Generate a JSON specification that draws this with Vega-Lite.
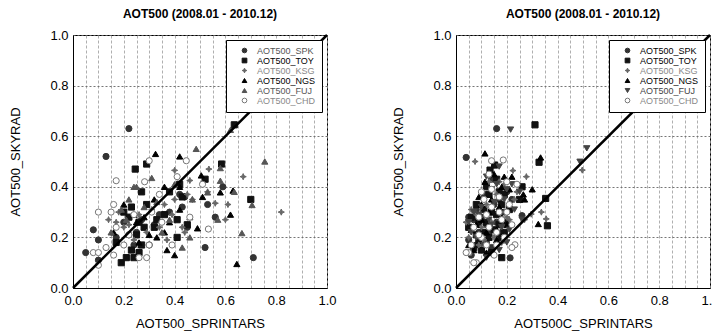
{
  "$schema": "https://vega.github.io/schema/vega-lite/v6.json",
  "padding": {"left": 9, "top": 7, "right": 0, "bottom": 0},
  "background": "white",
  "datasets": {
    "diag": [{"x": 0, "y": 0}, {"x": 1, "y": 1}],
    "left": [
      {"s": "AOT500_SPK", "x": 0.22, "y": 0.63}, {"s": "AOT500_SPK", "x": 0.13, "y": 0.52}, {"s": "AOT500_SPK", "x": 0.05, "y": 0.14}, {"s": "AOT500_SPK", "x": 0.10, "y": 0.19}, {"s": "AOT500_SPK", "x": 0.08, "y": 0.23}, {"s": "AOT500_SPK", "x": 0.10, "y": 0.11}, {"s": "AOT500_SPK", "x": 0.52, "y": 0.16}, {"s": "AOT500_SPK", "x": 0.71, "y": 0.12}, {"s": "AOT500_SPK", "x": 0.59, "y": 0.40}, {"s": "AOT500_SPK", "x": 0.53, "y": 0.33}, {"s": "AOT500_SPK", "x": 0.56, "y": 0.28}, {"s": "AOT500_SPK", "x": 0.20, "y": 0.26}, {"s": "AOT500_SPK", "x": 0.22, "y": 0.21}, {"s": "AOT500_SPK", "x": 0.25, "y": 0.22}, {"s": "AOT500_SPK", "x": 0.38, "y": 0.30}, {"s": "AOT500_SPK", "x": 0.42, "y": 0.37}, {"s": "AOT500_SPK", "x": 0.44, "y": 0.36}, {"s": "AOT500_SPK", "x": 0.45, "y": 0.24}, {"s": "AOT500_SPK", "x": 0.30, "y": 0.17}, {"s": "AOT500_SPK", "x": 0.32, "y": 0.25}, {"s": "AOT500_SPK", "x": 0.43, "y": 0.32}, {"s": "AOT500_SPK", "x": 0.17, "y": 0.20}, {"s": "AOT500_SPK", "x": 0.27, "y": 0.27}, {"s": "AOT500_SPK", "x": 0.34, "y": 0.29}, {"s": "AOT500_SPK", "x": 0.24, "y": 0.17},
      {"s": "AOT500_TOY", "x": 0.635, "y": 0.645}, {"s": "AOT500_TOY", "x": 0.29, "y": 0.49}, {"s": "AOT500_TOY", "x": 0.245, "y": 0.47}, {"s": "AOT500_TOY", "x": 0.27, "y": 0.38}, {"s": "AOT500_TOY", "x": 0.585, "y": 0.49}, {"s": "AOT500_TOY", "x": 0.70, "y": 0.35}, {"s": "AOT500_TOY", "x": 0.19, "y": 0.10}, {"s": "AOT500_TOY", "x": 0.21, "y": 0.12}, {"s": "AOT500_TOY", "x": 0.24, "y": 0.12}, {"s": "AOT500_TOY", "x": 0.23, "y": 0.15}, {"s": "AOT500_TOY", "x": 0.26, "y": 0.14}, {"s": "AOT500_TOY", "x": 0.27, "y": 0.17}, {"s": "AOT500_TOY", "x": 0.20, "y": 0.30}, {"s": "AOT500_TOY", "x": 0.23, "y": 0.32}, {"s": "AOT500_TOY", "x": 0.26, "y": 0.26}, {"s": "AOT500_TOY", "x": 0.28, "y": 0.24}, {"s": "AOT500_TOY", "x": 0.32, "y": 0.24}, {"s": "AOT500_TOY", "x": 0.41, "y": 0.27}, {"s": "AOT500_TOY", "x": 0.41, "y": 0.20}, {"s": "AOT500_TOY", "x": 0.45, "y": 0.25}, {"s": "AOT500_TOY", "x": 0.42, "y": 0.41}, {"s": "AOT500_TOY", "x": 0.38, "y": 0.38}, {"s": "AOT500_TOY", "x": 0.43, "y": 0.36}, {"s": "AOT500_TOY", "x": 0.52, "y": 0.43}, {"s": "AOT500_TOY", "x": 0.17, "y": 0.18}, {"s": "AOT500_TOY", "x": 0.22, "y": 0.28}, {"s": "AOT500_TOY", "x": 0.29, "y": 0.33}, {"s": "AOT500_TOY", "x": 0.36, "y": 0.29}, {"s": "AOT500_TOY", "x": 0.25, "y": 0.21}, {"s": "AOT500_TOY", "x": 0.33, "y": 0.27},
      {"s": "AOT500_KSG", "x": 0.82, "y": 0.30}, {"s": "AOT500_KSG", "x": 0.67, "y": 0.44}, {"s": "AOT500_KSG", "x": 0.61, "y": 0.33}, {"s": "AOT500_KSG", "x": 0.56, "y": 0.335}, {"s": "AOT500_KSG", "x": 0.535, "y": 0.47}, {"s": "AOT500_KSG", "x": 0.46, "y": 0.425}, {"s": "AOT500_KSG", "x": 0.40, "y": 0.465}, {"s": "AOT500_KSG", "x": 0.41, "y": 0.44}, {"s": "AOT500_KSG", "x": 0.37, "y": 0.19}, {"s": "AOT500_KSG", "x": 0.34, "y": 0.24}, {"s": "AOT500_KSG", "x": 0.43, "y": 0.24}, {"s": "AOT500_KSG", "x": 0.47, "y": 0.35}, {"s": "AOT500_KSG", "x": 0.45, "y": 0.37}, {"s": "AOT500_KSG", "x": 0.14, "y": 0.27}, {"s": "AOT500_KSG", "x": 0.17, "y": 0.26}, {"s": "AOT500_KSG", "x": 0.20, "y": 0.24}, {"s": "AOT500_KSG", "x": 0.24, "y": 0.19}, {"s": "AOT500_KSG", "x": 0.26, "y": 0.29}, {"s": "AOT500_KSG", "x": 0.31, "y": 0.31}, {"s": "AOT500_KSG", "x": 0.35, "y": 0.26}, {"s": "AOT500_KSG", "x": 0.39, "y": 0.29}, {"s": "AOT500_KSG", "x": 0.44, "y": 0.22}, {"s": "AOT500_KSG", "x": 0.29, "y": 0.22}, {"s": "AOT500_KSG", "x": 0.18, "y": 0.30}, {"s": "AOT500_KSG", "x": 0.53, "y": 0.38}, {"s": "AOT500_KSG", "x": 0.60, "y": 0.27}, {"s": "AOT500_KSG", "x": 0.36, "y": 0.33}, {"s": "AOT500_KSG", "x": 0.22, "y": 0.25}, {"s": "AOT500_KSG", "x": 0.40, "y": 0.35},
      {"s": "AOT500_NGS", "x": 0.325, "y": 0.53}, {"s": "AOT500_NGS", "x": 0.42, "y": 0.52}, {"s": "AOT500_NGS", "x": 0.505, "y": 0.445}, {"s": "AOT500_NGS", "x": 0.36, "y": 0.40}, {"s": "AOT500_NGS", "x": 0.42, "y": 0.40}, {"s": "AOT500_NGS", "x": 0.58, "y": 0.378}, {"s": "AOT500_NGS", "x": 0.63, "y": 0.385}, {"s": "AOT500_NGS", "x": 0.62, "y": 0.29}, {"s": "AOT500_NGS", "x": 0.49, "y": 0.236}, {"s": "AOT500_NGS", "x": 0.51, "y": 0.36}, {"s": "AOT500_NGS", "x": 0.40, "y": 0.13}, {"s": "AOT500_NGS", "x": 0.37, "y": 0.15}, {"s": "AOT500_NGS", "x": 0.20, "y": 0.33}, {"s": "AOT500_NGS", "x": 0.24, "y": 0.29}, {"s": "AOT500_NGS", "x": 0.30, "y": 0.21}, {"s": "AOT500_NGS", "x": 0.33, "y": 0.20}, {"s": "AOT500_NGS", "x": 0.36, "y": 0.22}, {"s": "AOT500_NGS", "x": 0.42, "y": 0.31}, {"s": "AOT500_NGS", "x": 0.26, "y": 0.18}, {"s": "AOT500_NGS", "x": 0.32, "y": 0.35}, {"s": "AOT500_NGS", "x": 0.38, "y": 0.26}, {"s": "AOT500_NGS", "x": 0.16, "y": 0.22}, {"s": "AOT500_NGS", "x": 0.25, "y": 0.26}, {"s": "AOT500_NGS", "x": 0.645, "y": 0.095}, {"s": "AOT500_NGS", "x": 0.28, "y": 0.28},
      {"s": "AOT500_FUJ", "x": 0.485, "y": 0.55}, {"s": "AOT500_FUJ", "x": 0.755, "y": 0.50}, {"s": "AOT500_FUJ", "x": 0.62, "y": 0.625}, {"s": "AOT500_FUJ", "x": 0.31, "y": 0.435}, {"s": "AOT500_FUJ", "x": 0.24, "y": 0.40}, {"s": "AOT500_FUJ", "x": 0.25, "y": 0.40}, {"s": "AOT500_FUJ", "x": 0.19, "y": 0.31}, {"s": "AOT500_FUJ", "x": 0.22, "y": 0.35}, {"s": "AOT500_FUJ", "x": 0.28, "y": 0.32}, {"s": "AOT500_FUJ", "x": 0.58, "y": 0.424}, {"s": "AOT500_FUJ", "x": 0.58, "y": 0.474}, {"s": "AOT500_FUJ", "x": 0.635, "y": 0.38}, {"s": "AOT500_FUJ", "x": 0.705, "y": 0.328}, {"s": "AOT500_FUJ", "x": 0.665, "y": 0.217}, {"s": "AOT500_FUJ", "x": 0.57, "y": 0.27}, {"s": "AOT500_FUJ", "x": 0.53, "y": 0.378}, {"s": "AOT500_FUJ", "x": 0.46, "y": 0.20}, {"s": "AOT500_FUJ", "x": 0.43, "y": 0.16}, {"s": "AOT500_FUJ", "x": 0.46, "y": 0.28}, {"s": "AOT500_FUJ", "x": 0.38, "y": 0.27}, {"s": "AOT500_FUJ", "x": 0.40, "y": 0.41}, {"s": "AOT500_FUJ", "x": 0.33, "y": 0.34}, {"s": "AOT500_FUJ", "x": 0.15, "y": 0.22}, {"s": "AOT500_FUJ", "x": 0.47, "y": 0.35}, {"s": "AOT500_FUJ", "x": 0.35, "y": 0.22}, {"s": "AOT500_FUJ", "x": 0.21, "y": 0.27},
      {"s": "AOT500_CHD", "x": 0.446, "y": 0.503}, {"s": "AOT500_CHD", "x": 0.30, "y": 0.503}, {"s": "AOT500_CHD", "x": 0.282, "y": 0.42}, {"s": "AOT500_CHD", "x": 0.17, "y": 0.424}, {"s": "AOT500_CHD", "x": 0.51, "y": 0.41}, {"s": "AOT500_CHD", "x": 0.41, "y": 0.44}, {"s": "AOT500_CHD", "x": 0.34, "y": 0.37}, {"s": "AOT500_CHD", "x": 0.16, "y": 0.33}, {"s": "AOT500_CHD", "x": 0.10, "y": 0.30}, {"s": "AOT500_CHD", "x": 0.15, "y": 0.30}, {"s": "AOT500_CHD", "x": 0.533, "y": 0.233}, {"s": "AOT500_CHD", "x": 0.46, "y": 0.28}, {"s": "AOT500_CHD", "x": 0.39, "y": 0.17}, {"s": "AOT500_CHD", "x": 0.29, "y": 0.12}, {"s": "AOT500_CHD", "x": 0.26, "y": 0.12}, {"s": "AOT500_CHD", "x": 0.10, "y": 0.09}, {"s": "AOT500_CHD", "x": 0.08, "y": 0.14}, {"s": "AOT500_CHD", "x": 0.10, "y": 0.14}, {"s": "AOT500_CHD", "x": 0.13, "y": 0.16}, {"s": "AOT500_CHD", "x": 0.16, "y": 0.13}, {"s": "AOT500_CHD", "x": 0.17, "y": 0.24}, {"s": "AOT500_CHD", "x": 0.22, "y": 0.21}, {"s": "AOT500_CHD", "x": 0.24, "y": 0.29}, {"s": "AOT500_CHD", "x": 0.30, "y": 0.17}, {"s": "AOT500_CHD", "x": 0.35, "y": 0.26}, {"s": "AOT500_CHD", "x": 0.20, "y": 0.17}, {"s": "AOT500_CHD", "x": 0.31, "y": 0.30}
    ],
    "right": [
      {"s": "AOT500_SPK", "x": 0.16, "y": 0.63}, {"s": "AOT500_SPK", "x": 0.04, "y": 0.516}, {"s": "AOT500_SPK", "x": 0.213, "y": 0.119}, {"s": "AOT500_SPK", "x": 0.05, "y": 0.19}, {"s": "AOT500_SPK", "x": 0.06, "y": 0.13}, {"s": "AOT500_SPK", "x": 0.08, "y": 0.17}, {"s": "AOT500_SPK", "x": 0.10, "y": 0.28}, {"s": "AOT500_SPK", "x": 0.13, "y": 0.22}, {"s": "AOT500_SPK", "x": 0.15, "y": 0.33}, {"s": "AOT500_SPK", "x": 0.17, "y": 0.35}, {"s": "AOT500_SPK", "x": 0.19, "y": 0.30}, {"s": "AOT500_SPK", "x": 0.12, "y": 0.25}, {"s": "AOT500_SPK", "x": 0.09, "y": 0.22}, {"s": "AOT500_SPK", "x": 0.14, "y": 0.16}, {"s": "AOT500_SPK", "x": 0.18, "y": 0.22}, {"s": "AOT500_SPK", "x": 0.26, "y": 0.286}, {"s": "AOT500_SPK", "x": 0.07, "y": 0.27}, {"s": "AOT500_SPK", "x": 0.11, "y": 0.37}, {"s": "AOT500_SPK", "x": 0.20, "y": 0.38}, {"s": "AOT500_SPK", "x": 0.05, "y": 0.28}, {"s": "AOT500_SPK", "x": 0.08, "y": 0.31}, {"s": "AOT500_SPK", "x": 0.12, "y": 0.18}, {"s": "AOT500_SPK", "x": 0.16, "y": 0.26}, {"s": "AOT500_SPK", "x": 0.19, "y": 0.19}, {"s": "AOT500_SPK", "x": 0.22, "y": 0.35}, {"s": "AOT500_SPK", "x": 0.14, "y": 0.43},
      {"s": "AOT500_TOY", "x": 0.311, "y": 0.645}, {"s": "AOT500_TOY", "x": 0.327, "y": 0.497}, {"s": "AOT500_TOY", "x": 0.36, "y": 0.246}, {"s": "AOT500_TOY", "x": 0.353, "y": 0.354}, {"s": "AOT500_TOY", "x": 0.26, "y": 0.40}, {"s": "AOT500_TOY", "x": 0.134, "y": 0.466}, {"s": "AOT500_TOY", "x": 0.152, "y": 0.486}, {"s": "AOT500_TOY", "x": 0.13, "y": 0.37}, {"s": "AOT500_TOY", "x": 0.17, "y": 0.38}, {"s": "AOT500_TOY", "x": 0.12, "y": 0.26}, {"s": "AOT500_TOY", "x": 0.16, "y": 0.29}, {"s": "AOT500_TOY", "x": 0.19, "y": 0.22}, {"s": "AOT500_TOY", "x": 0.09, "y": 0.18}, {"s": "AOT500_TOY", "x": 0.10, "y": 0.15}, {"s": "AOT500_TOY", "x": 0.14, "y": 0.14}, {"s": "AOT500_TOY", "x": 0.17, "y": 0.20}, {"s": "AOT500_TOY", "x": 0.06, "y": 0.28}, {"s": "AOT500_TOY", "x": 0.15, "y": 0.23}, {"s": "AOT500_TOY", "x": 0.11, "y": 0.31}, {"s": "AOT500_TOY", "x": 0.18, "y": 0.33}, {"s": "AOT500_TOY", "x": 0.25, "y": 0.35}, {"s": "AOT500_TOY", "x": 0.08, "y": 0.33}, {"s": "AOT500_TOY", "x": 0.20, "y": 0.26}, {"s": "AOT500_TOY", "x": 0.13, "y": 0.20}, {"s": "AOT500_TOY", "x": 0.07, "y": 0.16}, {"s": "AOT500_TOY", "x": 0.05, "y": 0.24}, {"s": "AOT500_TOY", "x": 0.09, "y": 0.26}, {"s": "AOT500_TOY", "x": 0.11, "y": 0.22}, {"s": "AOT500_TOY", "x": 0.14, "y": 0.30}, {"s": "AOT500_TOY", "x": 0.17, "y": 0.25}, {"s": "AOT500_TOY", "x": 0.19, "y": 0.37}, {"s": "AOT500_TOY", "x": 0.21, "y": 0.31}, {"s": "AOT500_TOY", "x": 0.16, "y": 0.43}, {"s": "AOT500_TOY", "x": 0.12, "y": 0.40}, {"s": "AOT500_TOY", "x": 0.18, "y": 0.12}, {"s": "AOT500_TOY", "x": 0.08, "y": 0.21},
      {"s": "AOT500_KSG", "x": 0.075, "y": 0.50}, {"s": "AOT500_KSG", "x": 0.224, "y": 0.464}, {"s": "AOT500_KSG", "x": 0.277, "y": 0.44}, {"s": "AOT500_KSG", "x": 0.497, "y": 0.466}, {"s": "AOT500_KSG", "x": 0.336, "y": 0.30}, {"s": "AOT500_KSG", "x": 0.355, "y": 0.273}, {"s": "AOT500_KSG", "x": 0.23, "y": 0.35}, {"s": "AOT500_KSG", "x": 0.224, "y": 0.163}, {"s": "AOT500_KSG", "x": 0.13, "y": 0.42}, {"s": "AOT500_KSG", "x": 0.08, "y": 0.29}, {"s": "AOT500_KSG", "x": 0.10, "y": 0.24}, {"s": "AOT500_KSG", "x": 0.16, "y": 0.37}, {"s": "AOT500_KSG", "x": 0.20, "y": 0.28}, {"s": "AOT500_KSG", "x": 0.05, "y": 0.20}, {"s": "AOT500_KSG", "x": 0.18, "y": 0.18}, {"s": "AOT500_KSG", "x": 0.27, "y": 0.27}, {"s": "AOT500_KSG", "x": 0.12, "y": 0.33}, {"s": "AOT500_KSG", "x": 0.06, "y": 0.14}, {"s": "AOT500_KSG", "x": 0.14, "y": 0.26}, {"s": "AOT500_KSG", "x": 0.11, "y": 0.19}, {"s": "AOT500_KSG", "x": 0.19, "y": 0.41}, {"s": "AOT500_KSG", "x": 0.04, "y": 0.26}, {"s": "AOT500_KSG", "x": 0.09, "y": 0.17}, {"s": "AOT500_KSG", "x": 0.15, "y": 0.20}, {"s": "AOT500_KSG", "x": 0.17, "y": 0.42}, {"s": "AOT500_KSG", "x": 0.21, "y": 0.27}, {"s": "AOT500_KSG", "x": 0.24, "y": 0.38}, {"s": "AOT500_KSG", "x": 0.06, "y": 0.31}, {"s": "AOT500_KSG", "x": 0.296, "y": 0.292},
      {"s": "AOT500_NGS", "x": 0.114, "y": 0.532}, {"s": "AOT500_NGS", "x": 0.333, "y": 0.516}, {"s": "AOT500_NGS", "x": 0.30, "y": 0.39}, {"s": "AOT500_NGS", "x": 0.324, "y": 0.253}, {"s": "AOT500_NGS", "x": 0.265, "y": 0.37}, {"s": "AOT500_NGS", "x": 0.27, "y": 0.35}, {"s": "AOT500_NGS", "x": 0.19, "y": 0.44}, {"s": "AOT500_NGS", "x": 0.18, "y": 0.40}, {"s": "AOT500_NGS", "x": 0.114, "y": 0.42}, {"s": "AOT500_NGS", "x": 0.15, "y": 0.45}, {"s": "AOT500_NGS", "x": 0.09, "y": 0.36}, {"s": "AOT500_NGS", "x": 0.13, "y": 0.30}, {"s": "AOT500_NGS", "x": 0.17, "y": 0.32}, {"s": "AOT500_NGS", "x": 0.12, "y": 0.22}, {"s": "AOT500_NGS", "x": 0.07, "y": 0.15}, {"s": "AOT500_NGS", "x": 0.20, "y": 0.25}, {"s": "AOT500_NGS", "x": 0.16, "y": 0.19}, {"s": "AOT500_NGS", "x": 0.10, "y": 0.27}, {"s": "AOT500_NGS", "x": 0.21, "y": 0.39}, {"s": "AOT500_NGS", "x": 0.06, "y": 0.23}, {"s": "AOT500_NGS", "x": 0.05, "y": 0.17}, {"s": "AOT500_NGS", "x": 0.08, "y": 0.25}, {"s": "AOT500_NGS", "x": 0.14, "y": 0.35}, {"s": "AOT500_NGS", "x": 0.16, "y": 0.23}, {"s": "AOT500_NGS", "x": 0.18, "y": 0.28}, {"s": "AOT500_NGS", "x": 0.22, "y": 0.44}, {"s": "AOT500_NGS", "x": 0.12, "y": 0.14}, {"s": "AOT500_NGS", "x": 0.10, "y": 0.33},
      {"s": "AOT500_FUJ", "x": 0.215, "y": 0.626}, {"s": "AOT500_FUJ", "x": 0.515, "y": 0.552}, {"s": "AOT500_FUJ", "x": 0.488, "y": 0.499}, {"s": "AOT500_FUJ", "x": 0.17, "y": 0.48}, {"s": "AOT500_FUJ", "x": 0.14, "y": 0.39}, {"s": "AOT500_FUJ", "x": 0.25, "y": 0.38}, {"s": "AOT500_FUJ", "x": 0.26, "y": 0.27}, {"s": "AOT500_FUJ", "x": 0.20, "y": 0.18}, {"s": "AOT500_FUJ", "x": 0.12, "y": 0.44}, {"s": "AOT500_FUJ", "x": 0.16, "y": 0.41}, {"s": "AOT500_FUJ", "x": 0.10, "y": 0.32}, {"s": "AOT500_FUJ", "x": 0.14, "y": 0.25}, {"s": "AOT500_FUJ", "x": 0.08, "y": 0.20}, {"s": "AOT500_FUJ", "x": 0.19, "y": 0.35}, {"s": "AOT500_FUJ", "x": 0.07, "y": 0.30}, {"s": "AOT500_FUJ", "x": 0.21, "y": 0.23}, {"s": "AOT500_FUJ", "x": 0.12, "y": 0.12}, {"s": "AOT500_FUJ", "x": 0.22, "y": 0.41}, {"s": "AOT500_FUJ", "x": 0.17, "y": 0.15}, {"s": "AOT500_FUJ", "x": 0.05, "y": 0.26}, {"s": "AOT500_FUJ", "x": 0.06, "y": 0.22}, {"s": "AOT500_FUJ", "x": 0.09, "y": 0.29}, {"s": "AOT500_FUJ", "x": 0.13, "y": 0.27}, {"s": "AOT500_FUJ", "x": 0.15, "y": 0.34}, {"s": "AOT500_FUJ", "x": 0.18, "y": 0.24}, {"s": "AOT500_FUJ", "x": 0.20, "y": 0.39}, {"s": "AOT500_FUJ", "x": 0.11, "y": 0.17}, {"s": "AOT500_FUJ", "x": 0.23, "y": 0.31},
      {"s": "AOT500_CHD", "x": 0.186, "y": 0.506}, {"s": "AOT500_CHD", "x": 0.14, "y": 0.503}, {"s": "AOT500_CHD", "x": 0.232, "y": 0.171}, {"s": "AOT500_CHD", "x": 0.24, "y": 0.41}, {"s": "AOT500_CHD", "x": 0.22, "y": 0.16}, {"s": "AOT500_CHD", "x": 0.20, "y": 0.42}, {"s": "AOT500_CHD", "x": 0.14, "y": 0.39}, {"s": "AOT500_CHD", "x": 0.17, "y": 0.30}, {"s": "AOT500_CHD", "x": 0.13, "y": 0.24}, {"s": "AOT500_CHD", "x": 0.10, "y": 0.20}, {"s": "AOT500_CHD", "x": 0.08, "y": 0.10}, {"s": "AOT500_CHD", "x": 0.07, "y": 0.10}, {"s": "AOT500_CHD", "x": 0.05, "y": 0.14}, {"s": "AOT500_CHD", "x": 0.04, "y": 0.14}, {"s": "AOT500_CHD", "x": 0.15, "y": 0.13}, {"s": "AOT500_CHD", "x": 0.12, "y": 0.17}, {"s": "AOT500_CHD", "x": 0.18, "y": 0.27}, {"s": "AOT500_CHD", "x": 0.11, "y": 0.35}, {"s": "AOT500_CHD", "x": 0.16, "y": 0.22}, {"s": "AOT500_CHD", "x": 0.09, "y": 0.28}, {"s": "AOT500_CHD", "x": 0.06, "y": 0.17}, {"s": "AOT500_CHD", "x": 0.19, "y": 0.20}, {"s": "AOT500_CHD", "x": 0.14, "y": 0.32}, {"s": "AOT500_CHD", "x": 0.21, "y": 0.33}, {"s": "AOT500_CHD", "x": 0.07, "y": 0.24}, {"s": "AOT500_CHD", "x": 0.10, "y": 0.38}, {"s": "AOT500_CHD", "x": 0.13, "y": 0.45}, {"s": "AOT500_CHD", "x": 0.17, "y": 0.36}, {"s": "AOT500_CHD", "x": 0.20, "y": 0.30}, {"s": "AOT500_CHD", "x": 0.22, "y": 0.25}, {"s": "AOT500_CHD", "x": 0.16, "y": 0.17}, {"s": "AOT500_CHD", "x": 0.09, "y": 0.21}, {"s": "AOT500_CHD", "x": 0.12, "y": 0.29}
    ]
  },
  "hconcat": [
    {
      "width": 254, "height": 253,
      "title": {"text": "AOT500 (2008.01 - 2010.12)"},
      "encoding": {
        "x": {"field": "x", "type": "quantitative", "scale": {"domain": [0, 1], "nice": false, "zero": false},
          "axis": {"title": "AOT500_SPRINTARS", "values": [0, 0.05, 0.1, 0.15, 0.2, 0.25, 0.3, 0.35, 0.4, 0.45, 0.5, 0.55, 0.6, 0.65, 0.7, 0.75, 0.8, 0.85, 0.9, 0.95, 1], "labelExpr": "round(datum.value*100) % 20 == 0 ? format(datum.value, '.1f') : ''", "gridDash": [3, 2], "gridColor": "#9a9a9a", "gridWidth": 0.8}},
        "y": {"field": "y", "type": "quantitative", "scale": {"domain": [0, 1], "nice": false, "zero": false},
          "axis": {"title": "AOT500_SKYRAD", "values": [0, 0.2, 0.4, 0.6, 0.8, 1], "format": ".1f", "gridDash": [2, 2], "gridColor": "#666", "gridWidth": 0.9}}
      },
      "layer": [
        {
          "data": {"name": "left"},
          "mark": {"type": "point", "filled": true, "size": 38, "strokeWidth": 1, "opacity": 1},
          "encoding": {
            "shape": {"field": "s", "type": "nominal", "scale": {"domain": ["AOT500_SPK", "AOT500_TOY", "AOT500_KSG", "AOT500_NGS", "AOT500_FUJ", "AOT500_CHD"], "range": ["circle", "square", "M0,-1L0.3,-0.3L1,0L0.3,0.3L0,1L-0.3,0.3L-1,0L-0.3,-0.3Z", "triangle-up", "triangle-up", "circle"]}, "legend": {"title": null, "labelColor": {"expr": "datum.label == 'AOT500_TOY' || datum.label == 'AOT500_NGS' ? '#000000' : (datum.label == 'AOT500_SPK' || datum.label == 'AOT500_FUJ' ? '#555555' : '#888888')"}}},
            "fill": {"field": "s", "type": "nominal", "scale": {"domain": ["AOT500_SPK", "AOT500_TOY", "AOT500_KSG", "AOT500_NGS", "AOT500_FUJ", "AOT500_CHD"], "range": ["#333333", "#111111", "#666666", "#000000", "#555555", "#ffffff"]}, "legend": {"title": null, "labelColor": {"expr": "datum.label == 'AOT500_TOY' || datum.label == 'AOT500_NGS' ? '#000000' : (datum.label == 'AOT500_SPK' || datum.label == 'AOT500_FUJ' ? '#555555' : '#888888')"}}},
            "stroke": {"field": "s", "type": "nominal", "scale": {"domain": ["AOT500_SPK", "AOT500_TOY", "AOT500_KSG", "AOT500_NGS", "AOT500_FUJ", "AOT500_CHD"], "range": ["#333333", "#111111", "#666666", "#000000", "#555555", "#777777"]}, "legend": {"title": null, "labelColor": {"expr": "datum.label == 'AOT500_TOY' || datum.label == 'AOT500_NGS' ? '#000000' : (datum.label == 'AOT500_SPK' || datum.label == 'AOT500_FUJ' ? '#555555' : '#888888')"}}}
          }
        },
        {
          "data": {"name": "diag"},
          "mark": {"type": "line", "color": "black", "strokeWidth": 2.5},
          "encoding": {}
        }
      ]
    },
    {
      "width": 254, "height": 253,
      "title": {"text": "AOT500 (2008.01 - 2010.12)"},
      "encoding": {
        "x": {"field": "x", "type": "quantitative", "scale": {"domain": [0, 1], "nice": false, "zero": false},
          "axis": {"title": "AOT500C_SPRINTARS", "values": [0, 0.05, 0.1, 0.15, 0.2, 0.25, 0.3, 0.35, 0.4, 0.45, 0.5, 0.55, 0.6, 0.65, 0.7, 0.75, 0.8, 0.85, 0.9, 0.95, 1], "labelExpr": "round(datum.value*100) % 20 == 0 ? format(datum.value, '.1f') : ''", "gridDash": [3, 2], "gridColor": "#9a9a9a", "gridWidth": 0.8}},
        "y": {"field": "y", "type": "quantitative", "scale": {"domain": [0, 1], "nice": false, "zero": false},
          "axis": {"title": "AOT500_SKYRAD", "values": [0, 0.2, 0.4, 0.6, 0.8, 1], "format": ".1f", "gridDash": [2, 2], "gridColor": "#666", "gridWidth": 0.9}}
      },
      "layer": [
        {
          "data": {"name": "right"},
          "mark": {"type": "point", "filled": true, "size": 38, "strokeWidth": 1, "opacity": 1},
          "encoding": {
            "shape": {"field": "s", "type": "nominal", "scale": {"domain": ["AOT500_SPK", "AOT500_TOY", "AOT500_KSG", "AOT500_NGS", "AOT500_FUJ", "AOT500_CHD"], "range": ["circle", "square", "M0,-1L0.3,-0.3L1,0L0.3,0.3L0,1L-0.3,0.3L-1,0L-0.3,-0.3Z", "triangle-up", "triangle-down", "circle"]}, "legend": {"title": null, "labelColor": {"expr": "datum.label == 'AOT500_TOY' || datum.label == 'AOT500_NGS' || datum.label == 'AOT500_SPK' ? '#000000' : (datum.label == 'AOT500_FUJ' ? '#444444' : '#888888')"}}},
            "fill": {"field": "s", "type": "nominal", "scale": {"domain": ["AOT500_SPK", "AOT500_TOY", "AOT500_KSG", "AOT500_NGS", "AOT500_FUJ", "AOT500_CHD"], "range": ["#333333", "#111111", "#666666", "#000000", "#444444", "#ffffff"]}, "legend": {"title": null, "labelColor": {"expr": "datum.label == 'AOT500_TOY' || datum.label == 'AOT500_NGS' || datum.label == 'AOT500_SPK' ? '#000000' : (datum.label == 'AOT500_FUJ' ? '#444444' : '#888888')"}}},
            "stroke": {"field": "s", "type": "nominal", "scale": {"domain": ["AOT500_SPK", "AOT500_TOY", "AOT500_KSG", "AOT500_NGS", "AOT500_FUJ", "AOT500_CHD"], "range": ["#333333", "#111111", "#666666", "#000000", "#444444", "#777777"]}, "legend": {"title": null, "labelColor": {"expr": "datum.label == 'AOT500_TOY' || datum.label == 'AOT500_NGS' || datum.label == 'AOT500_SPK' ? '#000000' : (datum.label == 'AOT500_FUJ' ? '#444444' : '#888888')"}}}
          }
        },
        {
          "data": {"name": "diag"},
          "mark": {"type": "line", "color": "black", "strokeWidth": 2.5},
          "encoding": {}
        }
      ]
    }
  ],
  "spacing": 55,
  "resolve": {"scale": {"shape": "independent", "fill": "independent", "stroke": "independent"}},
  "config": {
    "font": "Liberation Sans",
    "view": {"stroke": "black", "strokeWidth": 1},
    "title": {"fontSize": 12, "fontWeight": "bold", "color": "black", "offset": 8, "anchor": "middle"},
    "axis": {
      "grid": true, "ticks": false, "domain": true, "domainColor": "black", "domainWidth": 1,
      "labelFontSize": 13, "labelColor": "black", "labelFlush": false, "labelOverlap": false,
      "titleFontSize": 13, "titleFontWeight": "normal", "titleColor": "black"
    },
    "axisX": {"labelPadding": 6, "titlePadding": 10},
    "axisY": {"labelPadding": 5, "titlePadding": 27},
    "legend": {
      "orient": "top-right", "offset": 5, "padding": 6, "fillColor": "white", "strokeColor": "black", "strokeWidth": 1,
      "labelFontSize": 9, "labelColor": "#555", "symbolSize": 22, "symbolStrokeWidth": 1, "rowPadding": 0,
      "labelOffset": 8, "symbolOffset": 8
    }
  }
}
